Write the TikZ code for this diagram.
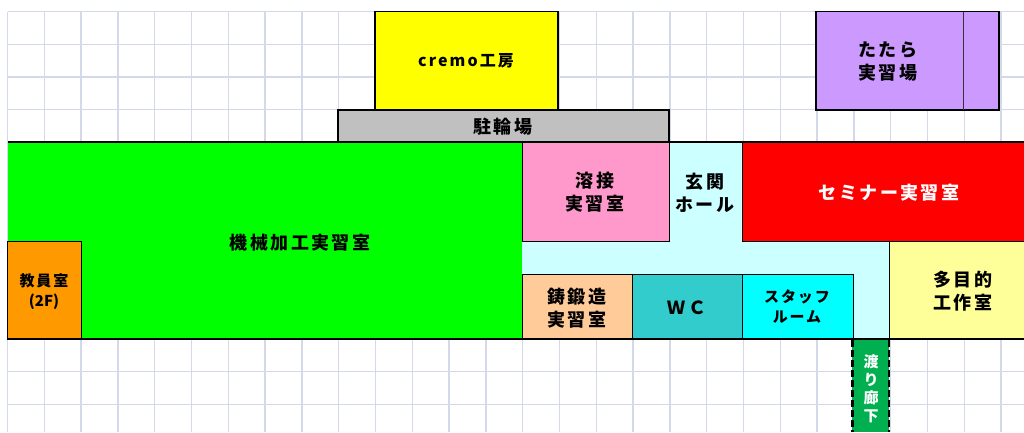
\documentclass[tikz,border=0pt]{standalone}
\usepackage{fontspec}
\setmainfont{Noto Sans CJK JP}
\newfontfamily\widecjk[LetterSpace=13]{Noto Sans CJK JP}
\newfontfamily\plaincjk{Noto Sans CJK JP}
\definecolor{gridblue}{HTML}{D3D9E8}
\definecolor{cpurple}{HTML}{CC99FF}
\definecolor{cgray}{HTML}{C0C0C0}
\definecolor{cgreen}{HTML}{00FF00}
\definecolor{ccorr}{HTML}{CCFFFF}
\definecolor{cpink}{HTML}{FF99CC}
\definecolor{cred}{HTML}{FF0000}
\definecolor{cpale}{HTML}{FFFF99}
\definecolor{corange}{HTML}{FF9900}
\definecolor{cpeach}{HTML}{FFCC99}
\definecolor{cteal}{HTML}{33CCCC}
\definecolor{ccyan}{HTML}{00FFFF}
\definecolor{cyell}{HTML}{FFFF00}
\definecolor{cwalk}{HTML}{00B050}
\begin{document}
\begin{tikzpicture}[x=1pt,y=-1pt,
  gridline/.style={draw=gridblue,line width=1.4pt},
  room/.style={draw=black,line width=1pt,fill=#1},
  roomtext/.style={font=\widecjk\bfseries\fontsize{18}{23}\selectfont,align=center,text=black,inner sep=0pt},
  smalltext/.style={font=\widecjk\bfseries\fontsize{15}{20}\selectfont},
  wtext/.style={roomtext,text=white}]
\useasboundingbox (0,0) rectangle (1024,432);
\fill[white] (0,0) rectangle (1024,432);
% grid
\foreach \i in {0,...,27} \draw[gridline] ({7.5+36.8*\i},11.5) -- ({7.5+36.8*\i},432);
\foreach \j in {0,...,12} \draw[gridline] (7.5,{11.5+32.75*\j}) -- (1024,{11.5+32.75*\j});
% rooms
\draw[room=cyell,line width=1.5pt] (375,11.5) rectangle (558,110);
\draw[room=cpurple,line width=1.5pt] (816,11.5) rectangle (999,110);
\draw[black!80,line width=1pt] (963.5,11.5) -- (963.5,110);
\draw[room=cgray,line width=1.5pt] (338,110) rectangle (669,142);
\fill[cgreen] (7.5,142) rectangle (522,339);
\fill[ccorr] (669,142) -- (742,142) -- (742,241) -- (889,241) -- (889,339) -- (522,339) -- (522,241) -- (669,241) -- cycle;
\draw[room=cpink] (522,142) rectangle (669,241);
\draw[room=cred] (742,142) rectangle (1026,241);
\draw[room=cpale] (889,241) rectangle (1026,339);
\draw[room=corange] (7.5,241) rectangle (81,339);
\draw[room=cpeach] (522,274) rectangle (632,339);
\draw[room=cteal] (632,274) rectangle (742,339);
\draw[room=ccyan] (742,274) rectangle (853,339);
\fill[cwalk] (852,339) rectangle (889,432);
\draw[black,line width=2.4pt,dash pattern=on 7pt off 3pt] (852.5,340) -- (852.5,432) (889,340) -- (889,432);
\draw[black,line width=2pt] (7.5,142) -- (1024,142);
\draw[black,line width=2pt] (7.5,339) -- (1024,339);
% labels
\node[roomtext,font=\widecjk\bfseries\fontsize{16}{20}\selectfont] (n1) at (466,61) {cremo工房};
\node[roomtext] (n2) at (888,61.5) {たたら\\実習場};
\node[roomtext] (n3) at (503,127) {駐輪場};
\node[roomtext] (n4) at (300,243) {機械加工実習室};
\node[roomtext,smalltext] (n5) at (44,291.5) {教員室\\{\plaincjk\bfseries (2F)}};
\node[roomtext] (n6) at (595,192.5) {溶接\\実習室};
\node[roomtext] (n7) at (705,193) {玄関\\ホール};
\node[wtext] (n8) at (889,193) {セミナー実習室};
\node[roomtext] (n9) at (963,291) {多目的\\工作室};
\node[roomtext] (n10) at (577,308) {鋳鍛造\\実習室};
\node[roomtext] (n11) at (687,308) {ＷＣ};
\node[roomtext,smalltext] (n12) at (797,307) {スタッフ\\ルーム};
\node[wtext,font=\widecjk\bfseries\fontsize{15}{18}\selectfont] (n13) at (871,389) {渡\\り\\廊\\下};
\end{tikzpicture}
\end{document}
